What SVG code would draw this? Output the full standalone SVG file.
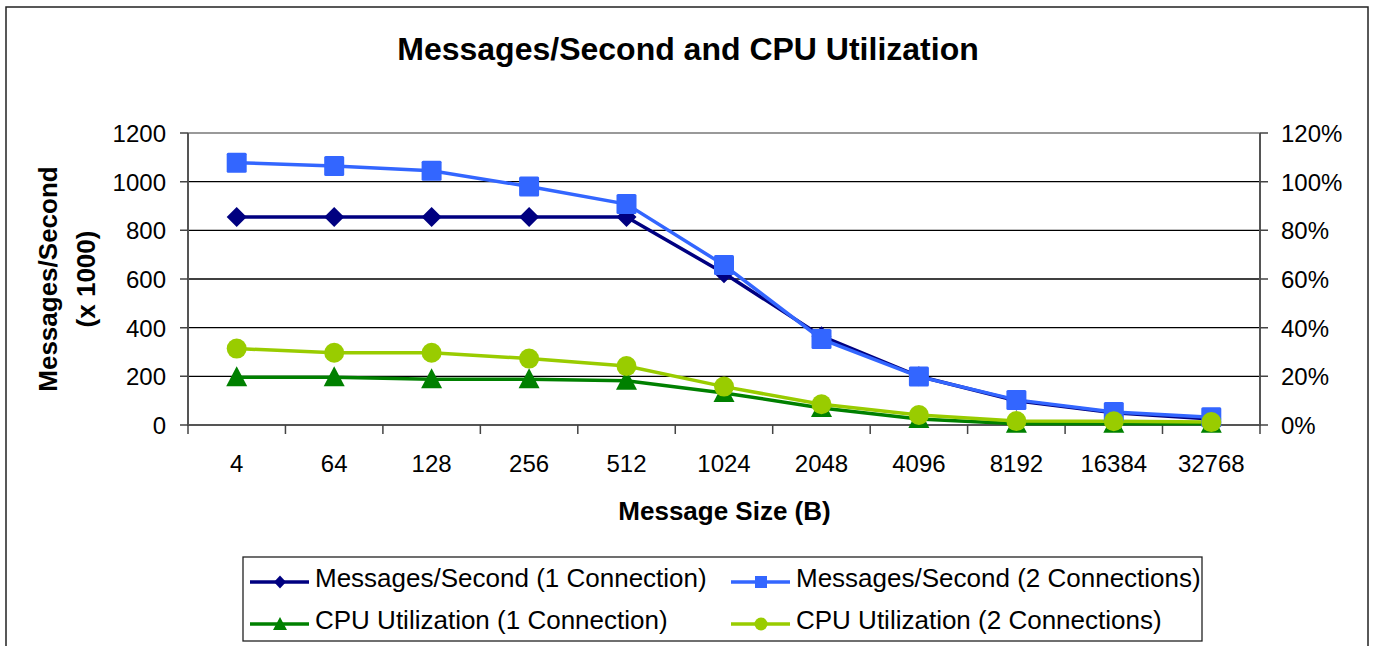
<svg xmlns="http://www.w3.org/2000/svg" xmlns:xlink="http://www.w3.org/1999/xlink" width="1376" height="646" viewBox="0 0 1376 646">
<style>
text{font-family:"Liberation Sans",Arial,sans-serif;fill:#000}
.tick{font-size:24px}
.bold{font-weight:bold}
.grid{stroke:#000;stroke-width:1.3}
.axis{stroke:#555;stroke-width:2;fill:none}
.tk{stroke:#444;stroke-width:1.5}
.s1{stroke:#000080;stroke-width:3.5;fill:none}
.s2{stroke:#3366FF;stroke-width:3.5;fill:none}
.s3{stroke:#008000;stroke-width:3.5;fill:none}
.s4{stroke:#99CC00;stroke-width:3.5;fill:none}
.leg{font-size:26px}
</style>
<defs>
<path id="dia" d="M0,-10 L10,0 L0,10 L-10,0 Z" fill="#000080"/>
<rect id="sq" x="-10" y="-10" width="20" height="20" rx="1.5" fill="#3366FF"/>
<path id="tri" d="M0,-11 L10.5,9 L-10.5,9 Z" fill="#008000"/>
<circle id="cir" r="10" fill="#99CC00"/>
<path id="diaS" d="M0,-6.5 L6,0 L0,6.5 L-6,0 Z" fill="#000080"/>
<rect id="sqS" x="-6" y="-6" width="12" height="12" fill="#3366FF"/>
<path id="triS" d="M0,-7 L7,6 L-7,6 Z" fill="#008000"/>
<circle id="cirS" r="6.5" fill="#99CC00"/>
</defs>
<rect x="0" y="0" width="1376" height="646" fill="#fff"/>
<rect x="6" y="7" width="1362" height="650" fill="none" stroke="#222" stroke-width="1.5"/>
<text x="688" y="60" text-anchor="middle" class="bold" font-size="32">Messages/Second and CPU Utilization</text>

<g id="plot-area">
<line x1="188" y1="133" x2="1260" y2="133" stroke="#999" stroke-width="2"/>
<line class="grid" x1="188" y1="181.7" x2="1260" y2="181.7"/>
<line class="grid" x1="188" y1="230.3" x2="1260" y2="230.3"/>
<line class="grid" x1="188" y1="279" x2="1260" y2="279"/>
<line class="grid" x1="188" y1="327.7" x2="1260" y2="327.7"/>
<line class="grid" x1="188" y1="376.3" x2="1260" y2="376.3"/>
<line class="axis" x1="188" y1="425" x2="1260" y2="425"/>
<line class="axis" x1="188" y1="133" x2="188" y2="426"/>
<line class="axis" x1="1260" y1="133" x2="1260" y2="426"/>
</g>
<g id="ticks">
<path class="tk" d="M180,133H188M180,181.7H188M180,230.3H188M180,279H188M180,327.7H188M180,376.3H188M180,425H188"/>
<path class="tk" d="M1260,133H1268M1260,181.7H1268M1260,230.3H1268M1260,279H1268M1260,327.7H1268M1260,376.3H1268M1260,425H1268"/>
<path class="tk" d="M188,425V434M285.45,425V434M382.9,425V434M480.36,425V434M577.8,425V434M675.27,425V434M772.7,425V434M870.2,425V434M967.6,425V434M1065.1,425V434M1162.5,425V434M1260,425V434"/>
</g>
<g id="y-left-labels" class="tick" text-anchor="end">
<text x="166" y="142">1200</text>
<text x="166" y="190.5">1000</text>
<text x="166" y="239">800</text>
<text x="166" y="288">600</text>
<text x="166" y="336.5">400</text>
<text x="166" y="385">200</text>
<text x="166" y="434">0</text>
</g>
<g id="y-right-labels" class="tick">
<text x="1281" y="142">120%</text>
<text x="1281" y="190.5">100%</text>
<text x="1281" y="239">80%</text>
<text x="1281" y="288">60%</text>
<text x="1281" y="336.5">40%</text>
<text x="1281" y="385">20%</text>
<text x="1281" y="434">0%</text>
</g>
<g id="x-labels" class="tick" text-anchor="middle">
<text x="236.7" y="471.5">4</text>
<text x="334.2" y="471.5">64</text>
<text x="431.6" y="471.5">128</text>
<text x="529.1" y="471.5">256</text>
<text x="626.5" y="471.5">512</text>
<text x="724" y="471.5">1024</text>
<text x="821.5" y="471.5">2048</text>
<text x="918.9" y="471.5">4096</text>
<text x="1016.4" y="471.5">8192</text>
<text x="1113.8" y="471.5">16384</text>
<text x="1211.3" y="471.5">32768</text>
</g>
<text x="724.5" y="520" text-anchor="middle" class="bold" font-size="26">Message Size (B)</text>
<g id="y-title" transform="translate(0,279) rotate(-90)" class="bold" font-size="26" text-anchor="middle">
<text x="0" y="57">Messages/Second</text>
<text x="0" y="95">(x 1000)</text>
</g>

<g id="connectors">
<polyline id="line-msg1" class="s1" points="236.7,217 334.2,217 431.6,217 529.1,217 626.5,217 724,273.2 821.5,336.2 918.9,376.3 1016.4,400.7 1113.8,412.8 1211.3,418.9"/>
<polyline id="line-msg2" class="s2" points="236.7,162.7 334.2,166.1 431.6,170.7 529.1,186.5 626.5,204.1 724,265.1 821.5,339.1 918.9,376.6 1016.4,399.9 1113.8,412.1 1211.3,417.2"/>
<polyline id="line-cpu1" class="s3" points="236.7,377.3 334.2,377.3 431.6,379.3 529.1,379.3 626.5,380.7 724,392.9 821.5,408 918.9,418.9 1016.4,423.8 1113.8,423.8 1211.3,423.8"/>
<polyline id="line-cpu2" class="s4" points="236.7,348.6 334.2,352.7 431.6,352.7 529.1,358.6 626.5,366.1 724,386.6 821.5,404.3 918.9,415 1016.4,421.1 1113.8,421.3 1211.3,422.1"/>
</g>
<g id="markers-msg1">
<use xlink:href="#dia" x="236.7" y="217"/><use xlink:href="#dia" x="334.2" y="217"/><use xlink:href="#dia" x="431.6" y="217"/><use xlink:href="#dia" x="529.1" y="217"/><use xlink:href="#dia" x="626.5" y="217"/><use xlink:href="#dia" x="724" y="273.2"/><use xlink:href="#dia" x="821.5" y="336.2"/><use xlink:href="#dia" x="918.9" y="376.3"/><use xlink:href="#dia" x="1016.4" y="400.7"/><use xlink:href="#dia" x="1113.8" y="412.8"/><use xlink:href="#dia" x="1211.3" y="418.9"/>
</g>
<g id="markers-msg2">
<use xlink:href="#sq" x="236.7" y="162.7"/><use xlink:href="#sq" x="334.2" y="166.1"/><use xlink:href="#sq" x="431.6" y="170.7"/><use xlink:href="#sq" x="529.1" y="186.5"/><use xlink:href="#sq" x="626.5" y="204.1"/><use xlink:href="#sq" x="724" y="265.1"/><use xlink:href="#sq" x="821.5" y="339.1"/><use xlink:href="#sq" x="918.9" y="376.6"/><use xlink:href="#sq" x="1016.4" y="399.9"/><use xlink:href="#sq" x="1113.8" y="412.1"/><use xlink:href="#sq" x="1211.3" y="417.2"/>
</g>
<g id="markers-cpu1">
<use xlink:href="#tri" x="236.7" y="377.3"/><use xlink:href="#tri" x="334.2" y="377.3"/><use xlink:href="#tri" x="431.6" y="379.3"/><use xlink:href="#tri" x="529.1" y="379.3"/><use xlink:href="#tri" x="626.5" y="380.7"/><use xlink:href="#tri" x="724" y="392.9"/><use xlink:href="#tri" x="821.5" y="408"/><use xlink:href="#tri" x="918.9" y="418.9"/><use xlink:href="#tri" x="1016.4" y="423.8"/><use xlink:href="#tri" x="1113.8" y="423.8"/><use xlink:href="#tri" x="1211.3" y="423.8"/>
</g>
<g id="markers-cpu2">
<use xlink:href="#cir" x="236.7" y="348.6"/><use xlink:href="#cir" x="334.2" y="352.7"/><use xlink:href="#cir" x="431.6" y="352.7"/><use xlink:href="#cir" x="529.1" y="358.6"/><use xlink:href="#cir" x="626.5" y="366.1"/><use xlink:href="#cir" x="724" y="386.6"/><use xlink:href="#cir" x="821.5" y="404.3"/><use xlink:href="#cir" x="918.9" y="415"/><use xlink:href="#cir" x="1016.4" y="421.1"/><use xlink:href="#cir" x="1113.8" y="421.3"/><use xlink:href="#cir" x="1211.3" y="422.1"/>
</g>

<g id="legend">
<rect x="243" y="557" width="959" height="84" fill="#fff" stroke="#222" stroke-width="1.3"/>
<line class="s1" x1="250" y1="582" x2="309" y2="582"/><use xlink:href="#diaS" x="280" y="582"/>
<text class="leg" x="315" y="587">Messages/Second (1 Connection)</text>
<line class="s3" x1="250" y1="624" x2="309" y2="624"/><use xlink:href="#triS" x="280" y="624"/>
<text class="leg" x="315" y="629">CPU Utilization (1 Connection)</text>
<line class="s2" x1="731" y1="582" x2="790" y2="582"/><use xlink:href="#sqS" x="761" y="582"/>
<text class="leg" x="796" y="587">Messages/Second (2 Connections)</text>
<line class="s4" x1="731" y1="624" x2="790" y2="624"/><use xlink:href="#cirS" x="761" y="624"/>
<text class="leg" x="796" y="629">CPU Utilization (2 Connections)</text>
</g>
</svg>
